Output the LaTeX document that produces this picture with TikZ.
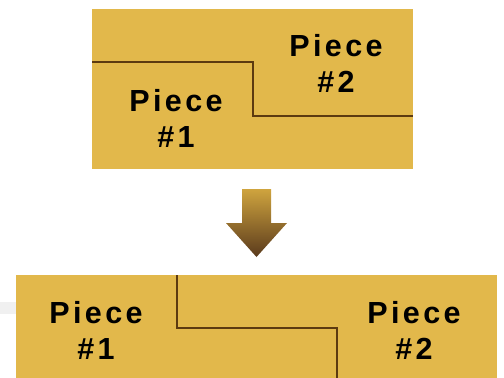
\documentclass[tikz,border=0pt]{standalone}
\usepackage{fontspec}
\setmainfont{Liberation Sans}
\definecolor{gold}{HTML}{E2B84B}
\definecolor{seam}{HTML}{5C3A10}
\definecolor{arrowtop}{HTML}{CFA43E}
\definecolor{arrowbot}{HTML}{5A3A1C}
\tikzset{
  panel/.style={fill=gold, draw=none},
  seamline/.style={draw=seam, line width=1.4pt},
  label/.style={font=\fontsize{30.5}{36}\selectfont\bfseries\addfontfeature{LetterSpace=11}, align=center, text=black, inner sep=0pt}
}
\begin{document}
\begin{tikzpicture}[x=1pt,y=-1pt]
\useasboundingbox (0,0) rectangle (504,378);
% faint shadow strip at left
\fill[black!6] (0,302) rectangle (16,314);
% upper panel: two interlocking pieces
\fill[panel] (92,9) rectangle (413,169);
\draw[seamline] (92,62) -- (253,62) -- (253,116) -- (413,116);
\node[label] (p2top) at (336,63) {Piece\\\#2};
\node[label] (p1top) at (176,118) {Piece\\\#1};
% downward arrow
\shade[top color=arrowtop, bottom color=arrowbot]
  (242,189) -- (271,189) -- (271,223) -- (287,223) -- (256.5,257)
  -- (226,223) -- (242,223) -- cycle;
% lower panel: pieces joined side by side
\fill[panel] (16,275) rectangle (497,378);
\draw[seamline] (177,275) -- (177,328) -- (337,328) -- (337,378);
\node[label] (p1bot) at (96,330) {Piece\\\#1};
\node[label] (p2bot) at (414,330) {Piece\\\#2};
\end{tikzpicture}
\end{document}
